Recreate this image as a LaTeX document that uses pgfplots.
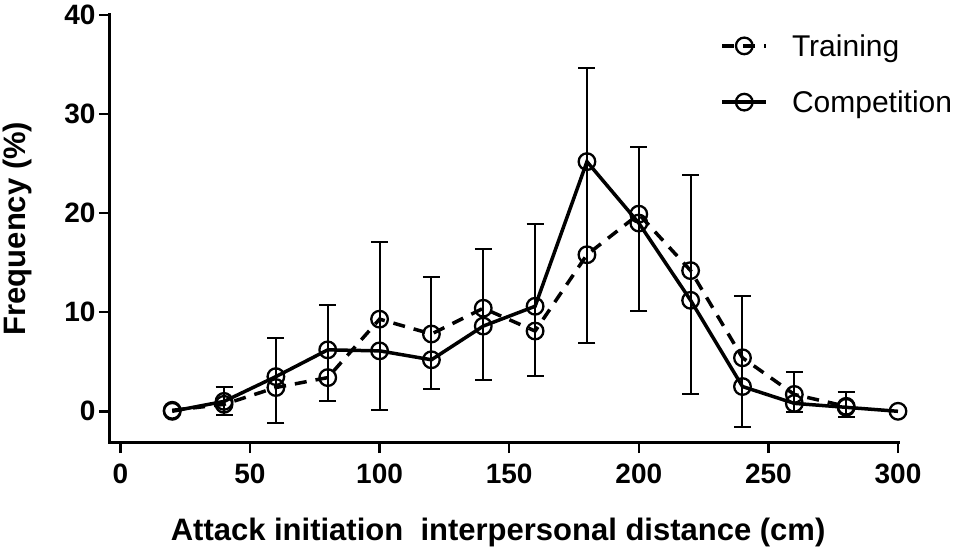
\documentclass[border=0pt]{standalone}
\usepackage{pgfplots}
\pgfplotsset{compat=1.18}
\usepackage{fontspec}
\setmainfont{Liberation Sans}
\pgfplotstableread{
x c e
40 1.05 1.45
60 3.1 4.3
80 5.85 4.85
100 8.6 8.5
120 7.95 5.65
140 9.8 6.6
160 11.25 7.65
180 20.8 13.9
200 18.4 8.3
220 12.75 11.05
240 5.0 6.6
260 1.95 2.05
280 0.65 1.25
}\errtable
\pgfplotstableread{
x y
20 0.1
40 0.7
60 2.4
80 3.4
100 9.3
120 7.8
140 10.4
160 8.1
180 15.8
200 19.9
220 14.2
240 5.4
260 1.7
280 0.5
}\training
\pgfplotstableread{
x y
20 0.0
40 1.0
60 3.5
80 6.2
100 6.1
120 5.2
140 8.6
160 10.6
180 25.2
200 19.0
220 11.2
240 2.5
260 0.8
280 0.4
300 0.0
}\competition
\begin{document}
\begin{tikzpicture}
\begin{axis}[
  at={(0,0)}, anchor=south west,
  scale only axis, width=788pt, height=427pt,
  xmin=-4, xmax=300, ymin=-3.1, ymax=40,
  clip=false,
  axis x line=bottom, axis y line=left,
  axis line style={-, line width=3pt, line cap=rect},
  xtick={0,50,...,300}, ytick={0,10,...,40},
  tick align=outside, major tick length=11pt,
  tick style={line width=2.5pt, black},
  /pgf/number format/assume math mode=true,
  tick label style={font=\fontsize{28}{30}\selectfont\bfseries},
  xticklabel style={yshift=-7pt},
  xlabel={Attack initiation\ \ interpersonal distance (cm)},
  ylabel={Frequency (\%)},
  xlabel style={font=\fontsize{31}{34}\selectfont\bfseries, at={(axis description cs:0.4925,0)}, anchor=base, yshift=-98pt},
  ylabel style={font=\fontsize{31}{34}\selectfont\bfseries, at={(axis description cs:-0.0945,0.5)}, anchor=south},
  legend style={at={(axis description cs:0.7707,0.96)}, anchor=north west, draw=none, fill=none,
    font=\fontsize{30}{33}\selectfont, row sep=33pt, column sep=0pt,
    nodes={inner sep=0pt}},
  legend cell align=left,
  legend image code/.code={\draw[mark repeat=2,mark phase=2,#1] plot coordinates {(0pt,0pt)(22pt,0pt)(44pt,0pt)};
     \path (68pt,0pt);},
]
\addplot[forget plot, draw=none, mark=none,
  error bars/.cd, y dir=both, y explicit,
  error bar style={draw=black, solid, line width=2pt},
  error mark options={draw=black, solid, rotate=90, mark size=8.5pt, line width=2pt}]
  table[x=x, y=c, y error=e] {\errtable};
\addplot[black, line width=3.5pt, dash pattern=on 12pt off 9pt, mark=o, mark size=8.3pt,
  mark options={solid, line width=2.3pt}] table[x=x,y=y] {\training};
\addlegendentry{Training}
\addplot[black, line width=3.5pt, mark=o, mark size=8.3pt,
  mark options={solid, line width=2.3pt}] table[x=x,y=y] {\competition};
\addlegendentry{Competition}
\end{axis}
\pgfresetboundingbox
\path[use as bounding box] (-110pt,-108pt) rectangle (845pt,442pt);
\end{tikzpicture}
\end{document}
